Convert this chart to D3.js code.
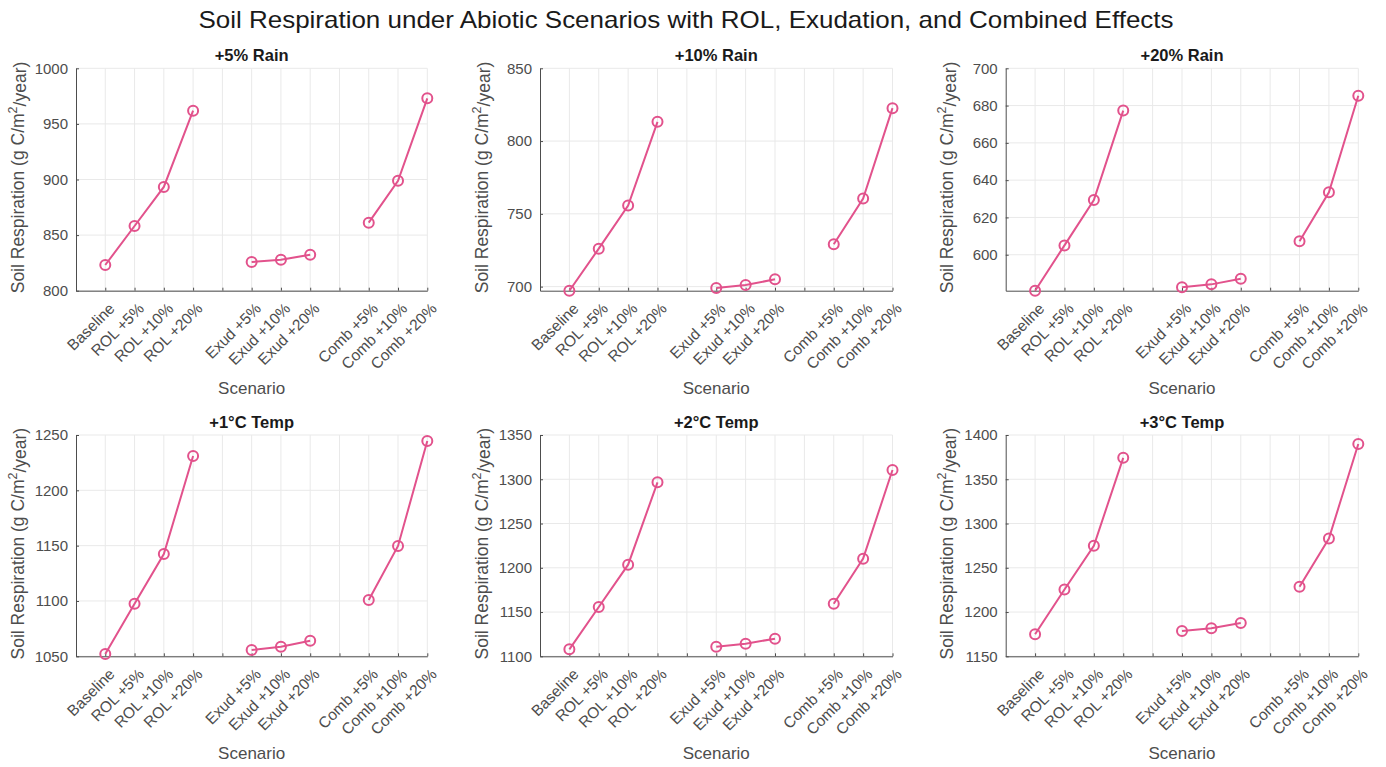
<!DOCTYPE html>
<html>
<head>
<meta charset="utf-8">
<script src="https://cdn.jsdelivr.net/npm/d3@7"></script>
<style>
  body { margin: 0; background: #fff; }
  svg { font-family: "Liberation Sans", Arial, sans-serif; }
</style>
</head>
<body>
<div id="chart"></div>
<script>
// Scenario tick labels (blank slots separate the groups)
const slots = ["Baseline", "ROL +5%", "ROL +10%", "ROL +20%", "",
  "Exud +5%", "Exud +10%", "Exud +20%", "",
  "Comb +5%", "Comb +10%", "Comb +20%"];
const scenarios = ["Baseline", "ROL +5%", "ROL +10%", "ROL +20%",
  "Exud +5%", "Exud +10%", "Exud +20%",
  "Comb +5%", "Comb +10%", "Comb +20%"];
// which scenarios are joined by a line
const groups = [
  ["Baseline", "ROL +5%", "ROL +10%", "ROL +20%"],
  ["Exud +5%", "Exud +10%", "Exud +20%"],
  ["Comb +5%", "Comb +10%", "Comb +20%"]
];

const panelTitles = ["+5% Rain", "+10% Rain", "+20% Rain", "+1°C Temp", "+2°C Temp", "+3°C Temp"];

// values, same order as scenarios
const rain5  = [823.1, 858.2, 893.3, 961.9, 825.8, 827.9, 832.4, 861.2, 898.9, 973.0];
const rain10 = [697.2, 726.1, 755.7, 813.2, 699.1, 701.1, 705.0, 729.1, 760.5, 822.6];
const rain20 = [580.7, 605.0, 629.3, 677.3, 582.5, 584.1, 587.1, 607.2, 633.5, 685.3];
const temp1  = [1052.1, 1097.5, 1142.4, 1231.0, 1055.7, 1058.7, 1064.1, 1100.9, 1149.7, 1244.6];
const temp2  = [1107.9, 1155.7, 1203.5, 1296.5, 1110.9, 1114.3, 1119.9, 1159.4, 1210.3, 1310.5];
const temp3  = [1174.9, 1225.5, 1274.9, 1374.2, 1178.7, 1181.6, 1187.6, 1228.5, 1283.1, 1389.9];
const series = [rain5, rain10, rain20, temp1, temp2, temp3];

// y limits and ticks per panel
const yLimits = [[800, 1000], [697.2, 850], [580.7, 700], [1050, 1250], [1100, 1350], [1150, 1400]];
const yTicks = [
  [800, 850, 900, 950, 1000],
  [700, 750, 800, 850],
  [600, 620, 640, 660, 680, 700],
  [1050, 1100, 1150, 1200, 1250],
  [1100, 1150, 1200, 1250, 1300, 1350],
  [1150, 1200, 1250, 1300, 1350, 1400]
];

const W = 1386, H = 767;
const lineColor = "#e2528c";
const axisColor = "#4d4d4d";
const gridColor = "#e9e9e9";

// axes boxes
const cols = [[76, 427.3], [540, 892.5], [1005.7, 1358.3]];
const rows = [[68.3, 290.7], [435, 656.3]];

const svg = d3.select("#chart").append("svg")
  .attr("width", W)
  .attr("height", H);

svg.append("text")
  .attr("x", 686)
  .attr("y", 28)
  .attr("text-anchor", "middle")
  .attr("textLength", 975)
  .attr("lengthAdjust", "spacingAndGlyphs")
  .style("font-size", "24px")
  .style("fill", "#1a1a1a")
  .text("Soil Respiration under Abiotic Scenarios with ROL, Exudation, and Combined Effects");

series.forEach((vals, i) => {
  const [x0, x1] = cols[i % 3];
  const [y0, y1] = rows[Math.floor(i / 3)];
  const g = svg.append("g");

  const x = d3.scaleLinear().domain([0, slots.length]).range([x0, x1]);
  const y = d3.scaleLinear().domain(yLimits[i]).range([y1, y0]);
  const xOf = name => x(slots.indexOf(name) + 1);

  // grid
  g.append("g").selectAll("line.v")
    .data(d3.range(1, slots.length + 1))
    .enter().append("line")
    .attr("x1", d => x(d)).attr("x2", d => x(d))
    .attr("y1", y0).attr("y2", y1)
    .style("stroke", gridColor);
  g.append("g").selectAll("line.h")
    .data(yTicks[i])
    .enter().append("line")
    .attr("x1", x0).attr("x2", x1)
    .attr("y1", d => y(d)).attr("y2", d => y(d))
    .style("stroke", gridColor);

  // x axis
  const xAxis = g.append("g")
    .attr("transform", `translate(0,${y1})`)
    .call(d3.axisBottom(x)
      .tickValues(d3.range(1, slots.length + 1))
      .tickSizeInner(-3).tickSizeOuter(0)
      .tickFormat(d => slots[d - 1]));
  xAxis.select(".domain").style("stroke", axisColor);
  xAxis.selectAll(".tick line").style("stroke", axisColor);
  xAxis.selectAll("text")
    .style("font-size", "15.5px")
    .style("fill", axisColor)
    .attr("text-anchor", "end")
    .attr("dy", "0.35em")
    .attr("transform", "translate(6,15) rotate(-45)")
    .attr("y", 0).attr("x", 0);

  // y axis
  const yAxis = g.append("g")
    .attr("transform", `translate(${x0},0)`)
    .call(d3.axisLeft(y)
      .tickValues(yTicks[i])
      .tickFormat(d3.format("d"))
      .tickSizeInner(-3).tickSizeOuter(0)
      .tickPadding(8));
  yAxis.select(".domain").style("stroke", axisColor);
  yAxis.selectAll(".tick line").style("stroke", axisColor);
  yAxis.selectAll("text")
    .style("font-size", "15px")
    .style("fill", axisColor);

  // lines and markers
  const line = d3.line()
    .x(d => xOf(d))
    .y(d => y(vals[scenarios.indexOf(d)]));
  groups.forEach(grp => {
    g.append("path")
      .datum(grp)
      .attr("d", line)
      .style("fill", "none")
      .style("stroke", lineColor)
      .style("stroke-width", 2);
  });
  g.append("g").selectAll("circle")
    .data(scenarios)
    .enter().append("circle")
    .attr("cx", d => xOf(d))
    .attr("cy", d => y(vals[scenarios.indexOf(d)]))
    .attr("r", 5)
    .style("fill", "none")
    .style("stroke", lineColor)
    .style("stroke-width", 2);

  // panel title
  g.append("text")
    .attr("x", (x0 + x1) / 2)
    .attr("y", y0 - 7)
    .attr("text-anchor", "middle")
    .style("font-size", "16.5px")
    .style("font-weight", "bold")
    .style("fill", "#1a1a1a")
    .text(panelTitles[i]);

  // x label
  g.append("text")
    .attr("x", (x0 + x1) / 2)
    .attr("y", y1 + 103)
    .attr("text-anchor", "middle")
    .style("font-size", "17px")
    .style("fill", axisColor)
    .text("Scenario");

  // y label
  const yl = g.append("text")
    .attr("transform", `translate(${x0 - 52.5},${(y0 + y1) / 2 - 2}) rotate(-90)`)
    .attr("text-anchor", "middle")
    .style("font-size", "17.5px")
    .style("fill", axisColor);
  yl.append("tspan").text("Soil Respiration (g C/m");
  yl.append("tspan").attr("dy", "-0.55em").style("font-size", "12.5px").text("2");
  yl.append("tspan").attr("dy", "0.55em").text("/year)");
});
</script>
</body>
</html>
